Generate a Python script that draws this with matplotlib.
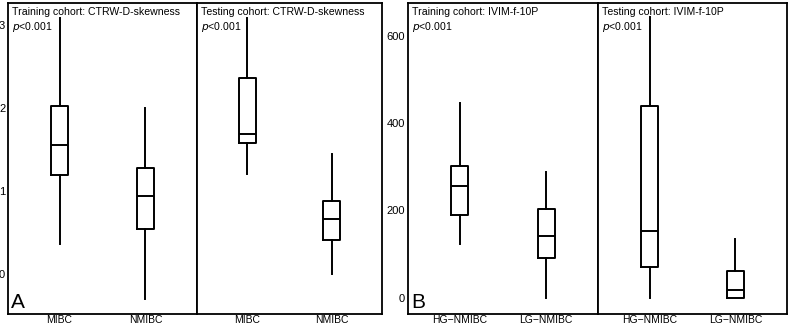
import matplotlib.pyplot as plt

plt.rcParams['font.family'] = ['Liberation Sans', 'DejaVu Sans']

# box stats: (whislo, q1, median, q3, whishi)
ctrw_groups = ['MIBC', 'NMIBC']
ctrw_train = [(0.36, 1.19, 1.55, 2.02, 3.08), (-0.30, 0.54, 0.94, 1.27, 2.00)]
ctrw_test = [(1.20, 1.58, 1.68, 2.36, 3.08), (0.00, 0.41, 0.66, 0.88, 1.45)]
ctrw_ticks = [0, 1, 2, 3]

ivim_groups = ['HG\u2212NMIBC', 'LG\u2212NMIBC']
ivim_train = [(124, 190, 256, 301, 447), (0, 92, 141, 204, 288)]
ivim_test = [(0, 70, 154, 440, 644), (0, 0, 18, 62, 135)]
ivim_ticks = [0, 200, 400, 600]

titles = ['Training cohort: CTRW-D-skewness', 'Testing cohort: CTRW-D-skewness',
          'Training cohort: IVIM-f-10P', 'Testing cohort: IVIM-f-10P']

W, H = 790, 326
fig = plt.figure(figsize=(W / 100, H / 100), dpi=100)

def fx(px):
    return px / W

bot = 1 - 314 / H
top = 1 - 3 / H
h = top - bot

panels = [
    (8, 197, ctrw_train, ctrw_groups, (-0.48, 3.26), ctrw_ticks, True, 'A'),
    (197, 382, ctrw_test, ctrw_groups, (-0.48, 3.26), ctrw_ticks, False, None),
    (408, 598, ivim_train, ivim_groups, (-37, 675), ivim_ticks, True, 'B'),
    (598, 787, ivim_test, ivim_groups, (-37, 675), ivim_ticks, False, None),
]

for i, (x0, x1, data, groups, ylim, ticks, show_y, letter) in enumerate(panels):
    ax = fig.add_axes([fx(x0), bot, fx(x1 - x0), h])
    stats = []
    for g, (lo, q1, med, q3, hi) in zip(groups, data):
        stats.append(dict(label=g, whislo=lo, q1=q1, med=med, q3=q3, whishi=hi, fliers=[]))
    lp = dict(color='black', linewidth=1.4)
    ax.bxp(stats, positions=[1, 2], widths=0.2, showfliers=False, showcaps=False,
           boxprops=lp, medianprops=lp, whiskerprops=lp)
    ax.set_xlim(0.4, 2.6)
    ax.set_ylim(*ylim)
    ax.set_yticks(ticks)
    ax.tick_params(axis='y', length=0, labelsize=8, pad=2)
    ax.tick_params(axis='x', length=0, labelsize=7.5, pad=1)
    if not show_y:
        ax.set_yticklabels([])
    for s in ax.spines.values():
        s.set_linewidth(1.3)
    ax.text(0.02, 0.988, titles[i], transform=ax.transAxes, fontsize=7.6,
            va='top', ha='left')
    ax.text(0.02, 0.945, r'$p$<0.001', transform=ax.transAxes, fontsize=7.6,
            va='top', ha='left')
    if letter:
        ax.text(0.015, 0.005, letter, transform=ax.transAxes, fontsize=15,
                va='bottom', ha='left')

fig.savefig('out.png', dpi=100)
